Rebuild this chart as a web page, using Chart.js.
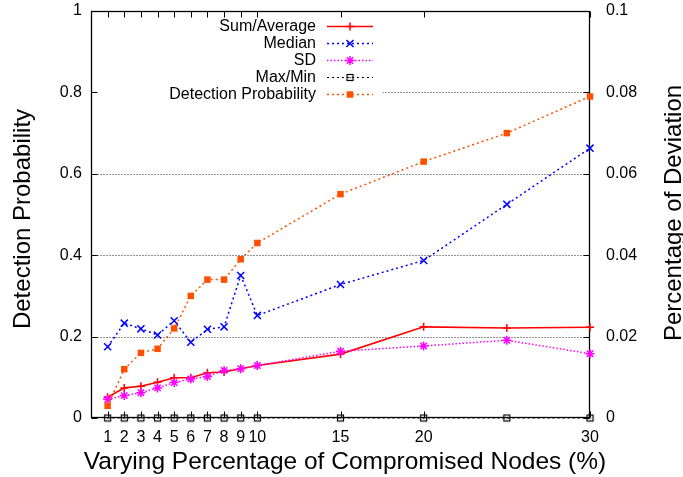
<!DOCTYPE html>
<html>
<head>
<meta charset="utf-8">
<script src="https://cdn.jsdelivr.net/npm/chart.js@4/dist/chart.umd.min.js"></script>
<style>
  html, body { margin: 0; padding: 0; background: #ffffff; }
  #wrap { width: 683px; height: 477px; }
</style>
</head>
<body>
<div id="wrap"><canvas id="c" width="683" height="477"></canvas></div>
<script>
// Percentage of compromised nodes
const xValues = [1, 2, 3, 4, 5, 6, 7, 8, 9, 10, 15, 20, 25, 30];
const xTickValues = [1, 2, 3, 4, 5, 6, 7, 8, 9, 10, 15, 20, 30];

// Deviation series (right axis)
const sumAverage = [0.0051, 0.0074, 0.0078, 0.0088, 0.0099, 0.0099, 0.0111, 0.0113, 0.0121, 0.0129, 0.0157, 0.0224, 0.0221, 0.0223];
const median     = [0.0175, 0.0233, 0.0219, 0.0204, 0.0239, 0.0186, 0.0218, 0.0224, 0.0350, 0.0252, 0.0328, 0.0387, 0.0525, 0.0663];
const sd         = [0.0046, 0.0055, 0.0062, 0.0074, 0.0087, 0.0096, 0.0102, 0.0117, 0.0121, 0.0129, 0.0164, 0.0177, 0.0191, 0.0158];
const maxMin     = [0, 0, 0, 0, 0, 0, 0, 0, 0, 0, 0, 0, 0, 0];

// Detection probability (left axis)
const detectionProb = [0.03, 0.12, 0.16, 0.17, 0.22, 0.30, 0.34, 0.34, 0.39, 0.43, 0.55, 0.63, 0.70, 0.79];

const leftTicks  = [0, 0.2, 0.4, 0.6, 0.8, 1];
const rightTicks = [0, 0.02, 0.04, 0.06, 0.08, 0.1];
const gridValues = [0.2, 0.4, 0.6, 0.8];

const xTitle = 'Varying Percentage of Compromised Nodes (%)';
const yTitle = 'Detection Probability';
const y2Title = 'Percentage of Deviation';

const FONT = "'Liberation Sans', Arial, Helvetica, sans-serif";

// open square with a centre dot
function boxDotMarker() {
  const c = document.createElement('canvas');
  c.width = 9; c.height = 9;
  const g = c.getContext('2d');
  g.strokeStyle = '#000';
  g.lineWidth = 1.2;
  g.strokeRect(1.5, 1.5, 6, 6);
  g.fillStyle = '#000';
  g.fillRect(4, 4, 1.2, 1.2);
  return c;
}
const boxDot = boxDotMarker();

function pts(arr) { return xValues.map((x, i) => ({ x: x, y: arr[i] })); }

const datasets = [
  { label: 'Sum/Average', data: pts(sumAverage), yAxisID: 'y2',
    borderColor: '#ff0000', backgroundColor: '#ff0000', borderWidth: 1.6, borderDash: [],
    pointStyle: 'cross', pointRadius: 4, pointBorderWidth: 1.5, order: 5 },
  { label: 'Median', data: pts(median), yAxisID: 'y2',
    borderColor: '#0000ff', backgroundColor: '#0000ff', borderWidth: 1.5, borderDash: [2, 3],
    pointStyle: 'crossRot', pointRadius: 5, pointBorderWidth: 1.5, order: 4 },
  { label: 'SD', data: pts(sd), yAxisID: 'y2',
    borderColor: '#ff00ff', backgroundColor: '#ff00ff', borderWidth: 1.5, borderDash: [1.5, 2],
    pointStyle: 'star', pointRadius: 4.5, pointBorderWidth: 1.5, order: 3 },
  { label: 'Max/Min', data: pts(maxMin), yAxisID: 'y2',
    borderColor: '#000000', backgroundColor: '#000000', borderWidth: 1.2, borderDash: [2, 3],
    pointStyle: boxDot, pointRadius: 4.5, pointBorderWidth: 1, order: 2 },
  { label: 'Detection Probability', data: pts(detectionProb), yAxisID: 'y',
    borderColor: '#ff5000', backgroundColor: '#ff5000', borderWidth: 1.5, borderDash: [2, 3],
    pointStyle: 'rect', pointRadius: 4.6, pointBorderWidth: 0, order: 1 }
];
datasets.forEach(d => { d.clip = false; d.tension = 0; d.fill = false; d.showLine = true; });

function drawMarker(ctx, ds, x, y) {
  if (Chart.helpers && Chart.helpers.drawPoint) {
    ctx.save();
    ctx.strokeStyle = ds.borderColor;
    ctx.fillStyle = ds.backgroundColor;
    ctx.lineWidth = ds.pointBorderWidth;
    ctx.setLineDash([]);
    Chart.helpers.drawPoint(ctx, { pointStyle: ds.pointStyle, radius: ds.pointRadius, rotation: 0, borderWidth: ds.pointBorderWidth }, x, y);
    ctx.restore();
  }
}

// frame, inward ticks, grid lines and key box
const framePlugin = {
  id: 'frame',
  beforeDatasetsDraw(chart) {
    const { ctx, chartArea: a, scales } = chart;
    const L = Math.round(a.left) + 0.5, R = Math.round(a.right) - 0.5;
    const T = Math.round(a.top) + 0.5, B = Math.round(a.bottom) - 0.5;
    ctx.save();
    // dotted horizontal grid
    ctx.strokeStyle = 'rgba(0,0,0,0.85)';
    ctx.lineWidth = 1;
    ctx.setLineDash([1, 2]);
    gridValues.forEach(v => {
      const y = Math.round(scales.y.getPixelForValue(v)) + 0.5;
      ctx.beginPath(); ctx.moveTo(L, y); ctx.lineTo(R, y); ctx.stroke();
    });
    ctx.setLineDash([]);
    // key background
    ctx.fillStyle = '#ffffff';
    ctx.fillRect(L + 1, 17, 382 - L, 86);
    // inward tick marks
    ctx.strokeStyle = '#000';
    ctx.lineWidth = 1;
    const tl = 6;
    leftTicks.forEach(v => {
      const y = Math.round(scales.y.getPixelForValue(v)) + 0.5;
      ctx.beginPath(); ctx.moveTo(L, y); ctx.lineTo(L + tl, y); ctx.stroke();
    });
    rightTicks.forEach(v => {
      const y = Math.round(scales.y2.getPixelForValue(v)) + 0.5;
      ctx.beginPath(); ctx.moveTo(R, y); ctx.lineTo(R - tl, y); ctx.stroke();
    });
    xTickValues.forEach(v => {
      const x = Math.round(scales.x.getPixelForValue(v)) + 0.5;
      ctx.beginPath(); ctx.moveTo(x, B); ctx.lineTo(x, B - tl); ctx.stroke();
      ctx.beginPath(); ctx.moveTo(x, T); ctx.lineTo(x, T + tl); ctx.stroke();
    });
    // border
    ctx.lineWidth = 1.3;
    ctx.strokeRect(L, T, R - L, B - T);
    ctx.restore();
  },
  afterDatasetsDraw(chart) {
    const { ctx } = chart;
    ctx.save();
    // key
    const textRight = 316, x0 = 327, x1 = 373, xm = 350;
    const rows = [26, 43, 60, 77, 94];
    ctx.font = '16px ' + FONT;
    ctx.textAlign = 'right';
    ctx.textBaseline = 'middle';
    datasets.forEach((ds, i) => {
      const y = rows[i];
      ctx.fillStyle = '#000';
      ctx.fillText(ds.label, textRight, y + 1);
      ctx.strokeStyle = ds.borderColor;
      ctx.lineWidth = ds.borderWidth;
      ctx.setLineDash(ds.borderDash);
      ctx.beginPath(); ctx.moveTo(x0, y + 0.5); ctx.lineTo(x1, y + 0.5); ctx.stroke();
      ctx.setLineDash([]);
      drawMarker(ctx, ds, xm, y + 0.5);
    });
    // axis titles
    ctx.fillStyle = '#000';
    ctx.textAlign = 'center';
    ctx.textBaseline = 'alphabetic';
    ctx.font = '24.5px ' + FONT;
    ctx.fillText(xTitle, 345, 469);
    ctx.font = '24px ' + FONT;
    ctx.save();
    ctx.translate(30, 219);
    ctx.rotate(-Math.PI / 2);
    ctx.fillText(yTitle, 0, 0);
    ctx.restore();
    ctx.save();
    ctx.translate(662, 213);
    ctx.rotate(-Math.PI / 2);
    ctx.textBaseline = 'top';
    ctx.fillText(y2Title, 0, 0);
    ctx.restore();
    ctx.restore();
  }
};

function fixVertical(width) {
  return s => { s.width = width; s.paddingTop = 0; s.paddingBottom = 0; };
}

new Chart(document.getElementById('c'), {
  type: 'line',
  data: { datasets: datasets },
  options: {
    responsive: false,
    animation: false,
    layout: { padding: { top: 11, left: 0, right: 0, bottom: 0 } },
    plugins: { legend: { display: false }, tooltip: { enabled: false } },
    scales: {
      x: {
        type: 'linear', position: 'bottom', min: 0, max: 30,
        afterBuildTicks: s => { s.ticks = xTickValues.map(v => ({ value: v })); },
        afterFit: s => { s.height = 59; s.paddingLeft = 0; s.paddingRight = 0; },
        grid: { display: false, drawTicks: false },
        border: { display: false },
        ticks: { autoSkip: false, maxRotation: 0, minRotation: 0, padding: 10,
                 color: '#000', font: { family: FONT, size: 16 } }
      },
      y: {
        position: 'left', min: 0, max: 1,
        afterBuildTicks: s => { s.ticks = leftTicks.map(v => ({ value: v })); },
        afterFit: fixVertical(91),
        grid: { display: false, drawTicks: false },
        border: { display: false },
        ticks: { padding: 9, color: '#000', font: { family: FONT, size: 16 },
                 callback: v => String(+v.toFixed(2)) }
      },
      y2: {
        position: 'right', min: 0, max: 0.1,
        afterBuildTicks: s => { s.ticks = rightTicks.map(v => ({ value: v })); },
        afterFit: fixVertical(93),
        grid: { display: false, drawTicks: false },
        border: { display: false },
        ticks: { padding: 16, color: '#000', font: { family: FONT, size: 16 },
                 callback: v => String(+v.toFixed(3)) }
      }
    }
  },
  plugins: [framePlugin]
});
</script>
</body>
</html>
